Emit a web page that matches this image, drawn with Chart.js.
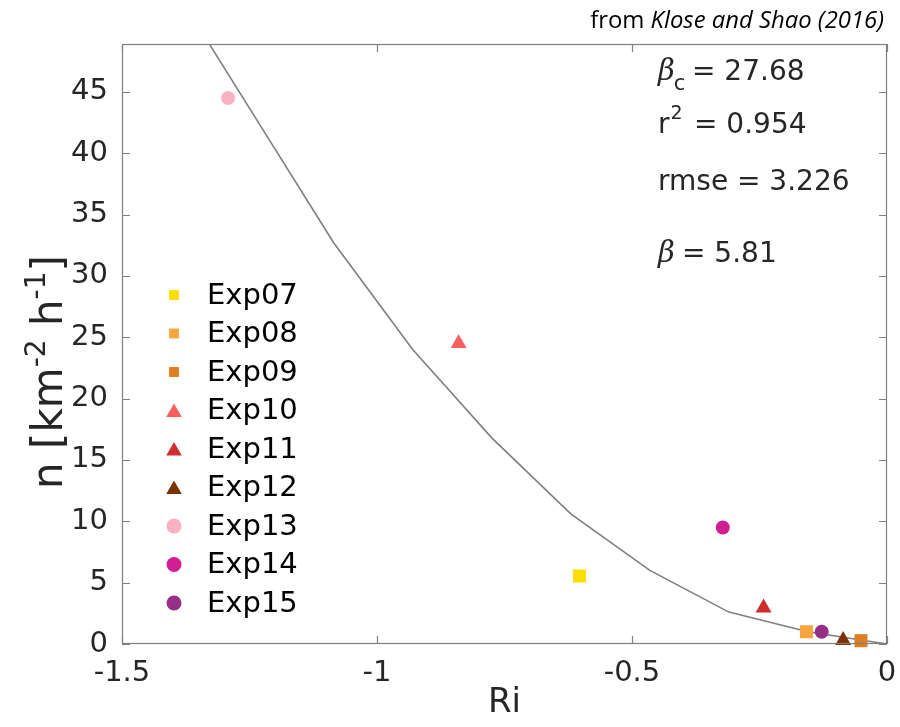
<!DOCTYPE html>
<html><head><meta charset="utf-8">
<script src="https://cdn.jsdelivr.net/npm/chart.js@4/dist/chart.umd.min.js"></script>
<style>html,body{margin:0;padding:0;background:#fff}#wrap{width:900px;height:727px;position:relative}canvas{display:block}</style>
</head><body><div id="wrap"><canvas id="c" width="900" height="727"></canvas></div>
<script>
// ---- data ----
const experiments = ['Exp07','Exp08','Exp09','Exp10','Exp11','Exp12','Exp13','Exp14','Exp15'];
const riValues    = [-0.603, -0.158, -0.051, -0.840, -0.242, -0.086, -1.292, -0.322, -0.128];
const nValues     = [5.54, 1.0, 0.27, 24.5, 2.95, 0.3, 44.5, 9.5, 1.0];
const markerShapes = ['rect','rect','rect','triangle','triangle','triangle','circle','circle','circle'];
const markerColors = ['#FFDD00','#F8A540','#E07E22','#F75F5F','#CF2E2E','#7A3200','#F8B2C2','#D21E94','#962F86'];
const fitRi = [-1.395, -1.24, -1.085, -0.93, -0.775, -0.62, -0.465, -0.31, -0.155, 0];
const fitN  = [53.3, 43.0, 32.7, 24.0, 16.8, 10.6, 6.0, 2.6, 1.0, 0];
const xTicks = [-1.5, -1, -0.5, 0];
const yTicks = [0, 5, 10, 15, 20, 25, 30, 35, 40, 45];
const xTickLabels = ['-1.5', '-1', '-0.5', '0'];
const statBetaC = '27.68', statR2 = '0.954', statRmse = '3.226', statBeta = '5.81';
const sourceNote = ['from ', 'Klose and Shao (2016)'];
const xTitle = 'Ri';

const markerRadius = {rect: 9.2, triangle: 9.2, circle: 7};
const legendRadius = {rect: 7, triangle: 9, circle: 7.5};
const SANS = '"DejaVu Sans", sans-serif';

const datasets = [{
  label: 'fit', data: fitRi.map((x, i) => ({x, y: fitN[i]})), showLine: true,
  borderColor: '#7f7f7f', borderWidth: 1.6, pointRadius: 0, order: 5, tension: 0
}];
experiments.forEach((name, i) => datasets.push({
  label: name, data: [{x: riValues[i], y: nValues[i]}], pointStyle: markerShapes[i],
  pointRadius: markerRadius[markerShapes[i]], backgroundColor: markerColors[i], borderColor: markerColors[i],
  borderWidth: 0, order: 0, clip: false
}));

function drawShape(ctx, shape, x, y, r, color) {
  ctx.save(); ctx.fillStyle = color; ctx.beginPath();
  if (shape === 'rect') { const s = Math.SQRT1_2 * r; ctx.rect(x - s, y - s, 2 * s, 2 * s); }
  else if (shape === 'triangle') {
    ctx.moveTo(x, y - r); ctx.lineTo(x + r * Math.sin(2*Math.PI/3), y + r/2); ctx.lineTo(x - r * Math.sin(2*Math.PI/3), y + r/2); ctx.closePath();
  } else ctx.arc(x, y, r, 0, Math.PI * 2);
  ctx.fill(); ctx.restore();
}

const deco = {
  id: 'deco',
  afterDraw(chart) {
    const ctx = chart.ctx, a = chart.chartArea, xs = chart.scales.x, ys = chart.scales.y;
    ctx.save();
    // box + inner ticks
    ctx.strokeStyle = '#7f7f7f'; ctx.lineWidth = 1.2;
    ctx.strokeRect(a.left + 0.5, a.top + 0.5, a.right - a.left - 1, a.bottom - a.top - 1);
    ctx.beginPath();
    xTicks.forEach(v => { const px = Math.round(xs.getPixelForValue(v)) + 0.5;
      ctx.moveTo(px, a.bottom); ctx.lineTo(px, a.bottom - 8); ctx.moveTo(px, a.top); ctx.lineTo(px, a.top + 8); });
    yTicks.forEach(v => { const py = Math.round(ys.getPixelForValue(v)) + 0.5;
      ctx.moveTo(a.left, py); ctx.lineTo(a.left + 8, py); ctx.moveTo(a.right, py); ctx.lineTo(a.right - 8, py); });
    ctx.stroke();

    // x title
    ctx.fillStyle = '#262626'; ctx.textAlign = 'center'; ctx.textBaseline = 'alphabetic';
    ctx.font = '34px ' + SANS;
    ctx.fillText(xTitle, (a.left + a.right) / 2, 712);

    // y title with superscripts (rotated)
    ctx.save(); ctx.translate(62, 372); ctx.rotate(-Math.PI / 2);
    const big = '42px ' + SANS, small = '28px ' + SANS;
    const parts = [['n [km', big, 0], ['-2', small, -17], [' h', big, 0], ['-1', small, -17], [']', big, 0]];
    let total = 0; parts.forEach(p => { ctx.font = p[1]; total += ctx.measureText(p[0]).width; });
    let cx = -total / 2; ctx.textAlign = 'left';
    parts.forEach(p => { ctx.font = p[1]; ctx.fillText(p[0], cx, p[2]); cx += ctx.measureText(p[0]).width; });
    ctx.restore();

    // stats text
    const tx = 658; ctx.textAlign = 'left';
    const num = '28px ' + SANS, greek = 'italic 29px "DejaVu Serif", serif';
    ctx.font = greek; ctx.fillText('\u03B2', tx, 80); let w = ctx.measureText('\u03B2').width;
    ctx.font = '21px ' + SANS; ctx.fillText('c', tx + w - 1, 90);
    ctx.font = num; ctx.fillText('= ' + statBetaC, 692, 80);
    ctx.font = num; ctx.fillText('r', tx, 133); w = ctx.measureText('r').width;
    ctx.font = '19px ' + SANS; ctx.fillText('2', tx + w + 1, 119);
    ctx.font = num; ctx.fillText('= ' + statR2, 694, 133);
    ctx.fillText('rmse = ' + statRmse, tx, 190);
    ctx.font = greek; ctx.fillText('\u03B2', tx, 262);
    ctx.font = num; ctx.fillText('= ' + statBeta, 682, 262);

    // legend
    ctx.font = '29px ' + SANS; ctx.textBaseline = 'middle';
    experiments.forEach((name, i) => {
      const y = 295 + i * 38.5;
      const sh = markerShapes[i];
      drawShape(ctx, sh, 174, sh === 'triangle' ? y + 2 : y, legendRadius[sh], markerColors[i]);
      ctx.fillStyle = '#000'; ctx.fillText(name, 207, y + 1);
    });

    // source note, fitted to span 590..884
    ctx.textBaseline = 'alphabetic'; ctx.fillStyle = '#000';
    let fs = 20;
    const measure = s => { ctx.font = s + 'px "Open Sans", sans-serif'; const a1 = ctx.measureText(sourceNote[0]).width;
      ctx.font = 'italic ' + s + 'px "Open Sans", sans-serif'; return [a1, ctx.measureText(sourceNote[1]).width]; };
    let [w1, w2] = measure(fs); fs = fs * 294 / (w1 + w2); [w1, w2] = measure(fs);
    const start = 884 - w1 - w2;
    ctx.font = fs + 'px "Open Sans", sans-serif'; ctx.fillText(sourceNote[0], start, 28);
    ctx.font = 'italic ' + fs + 'px "Open Sans", sans-serif'; ctx.fillText(sourceNote[1], start + w1, 28);
    ctx.restore();
  }
};

new Chart(document.getElementById('c'), {
  type: 'scatter',
  data: {datasets},
  options: {
    responsive: false, devicePixelRatio: 1, animation: false,
    layout: {padding: {top: 44, right: 13, left: 0, bottom: 0}},
    plugins: {legend: {display: false}, tooltip: {enabled: false}},
    scales: {
      x: {type: 'linear', min: -1.5, max: 0,
        afterBuildTicks: s => { s.ticks = xTicks.map(v => ({value: v})); },
        afterFit: s => { s.height = 83; s.paddingLeft = 0; s.paddingRight = 0; },
        grid: {display: false, drawTicks: false}, border: {display: false},
        ticks: {padding: 12, color: '#262626', font: {family: 'DejaVu Sans', size: 29},
          maxRotation: 0, autoSkip: false, callback: v => xTickLabels[xTicks.indexOf(v)] ?? ''}},
      y: {type: 'linear', min: 0, max: 48.9,
        afterBuildTicks: s => { s.ticks = yTicks.map(v => ({value: v})); },
        afterFit: s => { s.width = 122; s.paddingTop = 0; s.paddingBottom = 0; },
        grid: {display: false, drawTicks: false}, border: {display: false},
        ticks: {padding: 14, color: '#262626', font: {family: 'DejaVu Sans', size: 29}, autoSkip: false,
          callback: v => String(v)}}
    }
  },
  plugins: [deco]
});
</script></body></html>
